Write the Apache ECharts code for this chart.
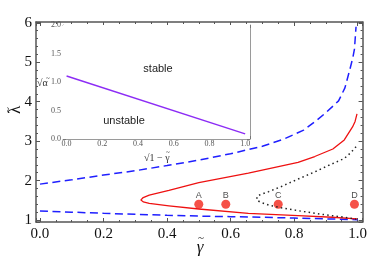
<!DOCTYPE html>
<html><head><meta charset="utf-8">
<script src="https://cdn.jsdelivr.net/npm/echarts@6/dist/echarts.min.js"></script>
<style>html,body{margin:0;padding:0;background:#fff}#c{width:370px;height:277px}</style>
</head><body><div id="c"></div>
<script>
// ---- data ----
const upperBlueGamma  = [0, 0.1, 0.2, 0.3, 0.4, 0.5, 0.6, 0.7, 0.77, 0.83, 0.87, 0.9, 0.94, 0.96, 0.975, 0.985, 0.99, 0.995];
const upperBlueLambda = [1.91, 2.02, 2.14, 2.25, 2.38, 2.52, 2.68, 2.87, 3.06, 3.28, 3.52, 3.72, 4.02, 4.35, 4.8, 5.12, 5.33, 5.9];
const lowerBlueGamma  = [0, 0.1, 0.2, 0.3, 0.4, 0.5, 0.6, 0.7, 0.8, 0.9, 1.0];
const lowerBlueLambda = [1.23, 1.2, 1.17, 1.145, 1.12, 1.1, 1.085, 1.07, 1.05, 1.03, 1.01];
const redGamma  = [0.998, 0.992, 0.984, 0.958, 0.922, 0.865, 0.8125, 0.656, 0.5, 0.406, 0.344, 0.325, 0.318, 0.325, 0.344, 0.406, 0.5, 0.656, 0.8125, 0.92, 0.998];
const redLambda = [3.69, 3.5, 3.36, 3.03, 2.8, 2.61, 2.46, 2.19, 1.95, 1.75, 1.63, 1.57, 1.51, 1.46, 1.42, 1.36, 1.28, 1.17, 1.11, 1.07, 1.03];
const dotGamma  = [0.995, 0.98, 0.958, 0.91, 0.865, 0.81, 0.76, 0.72, 0.695, 0.683, 0.679, 0.683, 0.695, 0.72, 0.76, 0.81, 0.865, 0.91, 0.958, 0.995];
const dotLambda = [2.86, 2.72, 2.56, 2.39, 2.22, 2.03, 1.85, 1.72, 1.65, 1.6, 1.55, 1.5, 1.45, 1.38, 1.31, 1.24, 1.17, 1.12, 1.07, 1.02];
const pointNames  = ['A', 'B', 'C', 'D'];
const pointGamma  = [0.5, 0.585, 0.75, 0.99];
const pointLambda = [1.4, 1.4, 1.4, 1.4];
const insetX = [0, 1.0];
const insetY = [1.105, 0.09];
const mainXTickLabels = ['0.0', '0.2', '0.4', '0.6', '0.8', '1.0'];
const mainYTickLabels = ['1', '2', '3', '4', '5', '6'];
const insetXTickLabels = ['0.0', '0.2', '0.4', '0.6', '0.8', '1.0'];
const insetYTickLabels = ['0.0', '0.5', '1.0', '1.5', '2.0'];

const zip = (a, b) => a.map((v, i) => [v, b[i]]);
const pickLabel = (labels) => (v) => {
  const hit = labels.find(l => Math.abs(parseFloat(l) - v) < 1e-6);
  return hit === undefined ? '' : hit;
};

const frame = '#555';
const inFrame = '#9a9a9a';
const serif = '"Liberation Serif", "DejaVu Serif", serif';
const sans = '"Liberation Sans", Arial, sans-serif';

function mainX(pos, showLabel) {
  return {
    gridIndex: 0, type: 'value', position: pos, min: -0.0125, max: 1.0156, splitNumber: 5,
    axisLine: { show: true, onZero: false, lineStyle: { color: frame, width: 1.5 } },
    axisTick: { show: true, inside: true, length: 4, lineStyle: { color: frame, width: 1 } },
    minorTick: { show: true, splitNumber: 4, length: 2, lineStyle: { color: frame, width: 1 } },
    splitLine: { show: false },
    axisLabel: { show: showLabel, formatter: pickLabel(mainXTickLabels), fontFamily: serif, fontSize: 15, color: '#111', margin: 5 }
  };
}
function mainY(pos, showLabel) {
  return {
    gridIndex: 0, type: 'value', position: pos, min: 0.95, max: 6.02, splitNumber: 5,
    axisLine: { show: true, onZero: false, lineStyle: { color: frame, width: 1.5 } },
    axisTick: { show: true, inside: true, length: 4, lineStyle: { color: frame, width: 1 } },
    minorTick: { show: true, splitNumber: 5, length: 2, lineStyle: { color: frame, width: 1 } },
    splitLine: { show: false },
    axisLabel: { show: showLabel, formatter: pickLabel(mainYTickLabels), fontFamily: serif, fontSize: 15, color: '#111', margin: 4 }
  };
}
function insX(pos, showLabel) {
  return {
    gridIndex: 1, type: 'value', position: pos, min: -0.02, max: 1.027, splitNumber: 5,
    axisLine: { show: true, onZero: false, lineStyle: { color: inFrame, width: 1 } },
    axisTick: { show: true, inside: true, length: 3, lineStyle: { color: '#777', width: 1 } },
    minorTick: { show: true, splitNumber: 4, length: 1.5, lineStyle: { color: '#777', width: 1 } },
    splitLine: { show: false },
    axisLabel: { show: showLabel, formatter: pickLabel(insetXTickLabels), fontFamily: serif, fontSize: 8, color: '#555', margin: 1 }
  };
}
function insY(pos, showLabel) {
  return {
    gridIndex: 1, type: 'value', position: pos, min: 0, max: 2, interval: 0.5,
    axisLine: { show: true, onZero: false, lineStyle: { color: inFrame, width: 1 } },
    axisTick: { show: true, inside: true, length: 3, lineStyle: { color: '#777', width: 1 } },
    minorTick: { show: true, splitNumber: 5, length: 1.5, lineStyle: { color: '#777', width: 1 } },
    splitLine: { show: false },
    axisLabel: { show: showLabel, formatter: pickLabel(insetYTickLabels), fontFamily: serif, fontSize: 8, color: '#555', margin: 2 }
  };
}

function txt(text, x, y, font, color, rot, align) {
  const a = align || 'center';
  return {
    type: 'text', x: x, y: y, rotation: rot || 0, z: 100,
    style: { text: text, font: font, fill: color, align: a, verticalAlign: 'middle', textAlign: a, textVerticalAlign: 'middle' }
  };
}

const chart = echarts.init(document.getElementById('c'), null, { renderer: 'canvas' });
chart.setOption({
  animation: false,
  backgroundColor: '#fff',
  grid: [
    { left: 36, right: 5, top: 22, bottom: 55 },
    { left: 63, top: 25, width: 187, height: 114, show: true, backgroundColor: '#fff', borderWidth: 0, z: 5 }
  ],
  xAxis: [mainX('bottom', true), mainX('top', false), insX('bottom', true), insX('top', false)],
  yAxis: [mainY('left', true), mainY('right', false), insY('left', true), insY('right', false)],
  series: [
    { type: 'line', xAxisIndex: 0, yAxisIndex: 0, data: zip(upperBlueGamma, upperBlueLambda), showSymbol: false, symbol: 'none', smooth: false,
      lineStyle: { color: '#1f1fff', width: 1.5, type: [8, 4.5] } },
    { type: 'line', xAxisIndex: 0, yAxisIndex: 0, data: zip(lowerBlueGamma, lowerBlueLambda), showSymbol: false, symbol: 'none', smooth: false,
      lineStyle: { color: '#1f1fff', width: 1.5, type: [8, 4.5] } },
    { type: 'line', xAxisIndex: 0, yAxisIndex: 0, data: zip(redGamma, redLambda), showSymbol: false, symbol: 'none', smooth: false,
      lineStyle: { color: '#ee1111', width: 1.3, join: 'round' } },
    { type: 'line', xAxisIndex: 0, yAxisIndex: 0, data: zip(dotGamma, dotLambda), showSymbol: false, symbol: 'none', smooth: false,
      lineStyle: { color: '#222', width: 1.5, type: [1.5, 3.2] } },
    { type: 'scatter', xAxisIndex: 0, yAxisIndex: 0, symbolSize: 9,
      data: pointNames.map((n, i) => ({ name: n, value: [pointGamma[i], pointLambda[i]] })),
      itemStyle: { color: '#f2261a' },
      label: { show: true, position: 'top', distance: 0, formatter: '{b}', fontFamily: sans, fontSize: 9, color: '#222' } },
    { type: 'line', xAxisIndex: 2, yAxisIndex: 2, data: zip(insetX, insetY), showSymbol: false, symbol: 'none', z: 10,
      lineStyle: { color: '#8c2cf5', width: 1.4 } }
  ],
  graphic: [
    txt('\u03BB', 16, 110, '17px ' + serif, '#111', Math.PI / 2),
    txt('~', 8, 110, '11px ' + serif, '#111', Math.PI / 2),
    txt('\u03B3', 200, 248, 'italic 17px ' + serif, '#111'),
    txt('~', 201, 238, '11px ' + serif, '#111'),
    txt('\u221A1 \u2212 \u03B3', 144, 158, '10px ' + serif, '#333', 0, 'left'),
    txt('~', 168, 152, '7px ' + serif, '#333'),
    txt('\u221A\u03B1', 37, 83, '10px ' + serif, '#333', 0, 'left'),
    txt('~', 48, 78, '7px ' + serif, '#333'),
    txt('stable', 158, 69, '11px ' + sans, '#222'),
    txt('unstable', 124, 121, '11px ' + sans, '#222')
  ]
});
</script></body></html>
